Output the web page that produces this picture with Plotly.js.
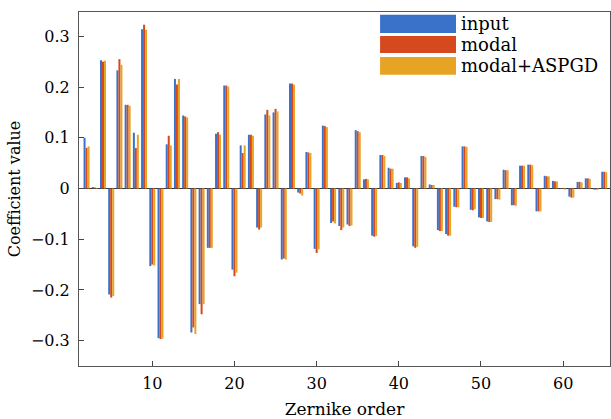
<!DOCTYPE html>
<html>
<head>
<meta charset="utf-8">
<script src="https://cdn.plot.ly/plotly-3.0.1.min.js"></script>
<style>html,body{margin:0;padding:0;background:#fff;}#chart{width:611px;height:419px;}</style>
</head>
<body>
<div id="chart"></div>
<script>
var order = [2,3,4,5,6,7,8,9,10,11,12,13,14,15,16,17,18,19,20,21,22,23,24,25,26,27,28,29,30,31,32,33,34,35,36,37,38,39,40,41,42,43,44,45,46,47,48,49,50,51,52,53,54,55,56,57,58,59,60,61,62,63,64,65];
var inputVals = [0.100,0.003,0.253,-0.209,0.233,0.165,0.110,0.314,-0.153,-0.295,0.087,0.216,0.144,-0.284,-0.228,-0.117,0.108,0.203,-0.160,0.085,0.106,-0.077,0.146,0.150,-0.140,0.207,-0.008,0.072,-0.119,0.124,-0.068,-0.074,-0.071,0.115,0.018,-0.093,0.066,0.041,0.011,0.022,-0.114,0.064,0.008,-0.082,-0.090,-0.036,0.083,-0.042,-0.057,-0.065,-0.021,0.037,-0.033,0.045,0.047,-0.045,0.025,0.015,-0.001,-0.016,0.013,0.020,-0.002,0.033];
var modalVals = [0.080,0.002,0.250,-0.215,0.255,0.165,0.080,0.323,-0.150,-0.297,0.104,0.205,0.142,-0.274,-0.248,-0.117,0.111,0.203,-0.173,0.070,0.106,-0.081,0.155,0.157,-0.138,0.207,-0.010,0.071,-0.127,0.123,-0.065,-0.082,-0.074,0.113,0.019,-0.095,0.066,0.039,0.012,0.022,-0.117,0.064,0.007,-0.084,-0.093,-0.037,0.083,-0.043,-0.058,-0.066,-0.021,0.036,-0.033,0.045,0.047,-0.045,0.024,0.014,-0.001,-0.018,0.013,0.020,-0.002,0.033];
var aspgdVals = [0.083,0.001,0.252,-0.212,0.244,0.163,0.106,0.313,-0.152,-0.296,0.085,0.216,0.140,-0.287,-0.228,-0.117,0.106,0.201,-0.166,0.085,0.104,-0.077,0.144,0.152,-0.140,0.205,-0.014,0.070,-0.120,0.121,-0.069,-0.077,-0.073,0.111,0.018,-0.094,0.064,0.039,0.011,0.020,-0.115,0.062,0.007,-0.084,-0.093,-0.037,0.082,-0.041,-0.058,-0.066,-0.022,0.036,-0.034,0.045,0.046,-0.045,0.024,0.014,-0.002,-0.018,0.012,0.019,-0.002,0.032];
var seriesNames = ['input','modal','modal+ASPGD'];
var xTicks = [10,20,30,40,50,60];
var yTicks = [-0.3,-0.2,-0.1,0,0.1,0.2,0.3];
var xTitle = 'Zernike order';
var yTitle = 'Coefficient value';

var colors = ['#3a72c9','#d6481d','#e7a324'];
var seriesVals = [inputVals, modalVals, aspgdVals];
var serif = '"DejaVu Serif", "Liberation Serif", serif';

var traces = seriesVals.map(function(v,i){
  return {type:'bar', x:order, y:v, name:seriesNames[i], marker:{color:colors[i], line:{width:0}}, showlegend:false};
});

// custom legend (wide swatches)
var shapes = [], annotations = [];
var swY = [[0.992,0.941],[0.932,0.884],[0.873,0.823]];
for (var i=0;i<3;i++){
  shapes.push({type:'rect', xref:'paper', yref:'paper', x0:0.567, x1:0.710, y0:swY[i][1], y1:swY[i][0], fillcolor:colors[i], line:{width:0}});
  annotations.push({xref:'paper', yref:'paper', x:0.716, y:(swY[i][0]+swY[i][1])/2, xanchor:'left', yanchor:'middle', text:seriesNames[i], showarrow:false, font:{family:serif, size:18, color:'#000'}});
}

var layout = {
  width:611, height:419,
  margin:{l:79, r:1, t:12, b:53},
  paper_bgcolor:'#fff', plot_bgcolor:'#fff',
  barmode:'group', bargap:0.27, bargroupgap:0,
  font:{family:serif, size:16, color:'#000'},
  xaxis:{range:[1.08,65.7], tickvals:xTicks, ticks:'inside', ticklen:5, tickcolor:'#444',
         showline:true, mirror:true, linecolor:'#555', linewidth:1, showgrid:false, zeroline:false,
         tickfont:{family:serif, size:16, color:'#000'}, ticklabelstandoff:3,
         title:{text:xTitle, font:{family:serif, size:17, color:'#000'}, standoff:12}},
  yaxis:{range:[-0.35,0.348], tickvals:yTicks, ticks:'inside', ticklen:5, tickcolor:'#444',
         showline:true, mirror:true, linecolor:'#555', linewidth:1, showgrid:false,
         zeroline:true, zerolinecolor:'#333', zerolinewidth:1.5,
         tickfont:{family:serif, size:16, color:'#000'}, ticklabelstandoff:5,
         title:{text:yTitle, font:{family:serif, size:16, color:'#000'}, standoff:6}},
  shapes:shapes, annotations:annotations
};
Plotly.newPlot('chart', traces, layout, {displayModeBar:false, staticPlot:true});
</script>
</body>
</html>
